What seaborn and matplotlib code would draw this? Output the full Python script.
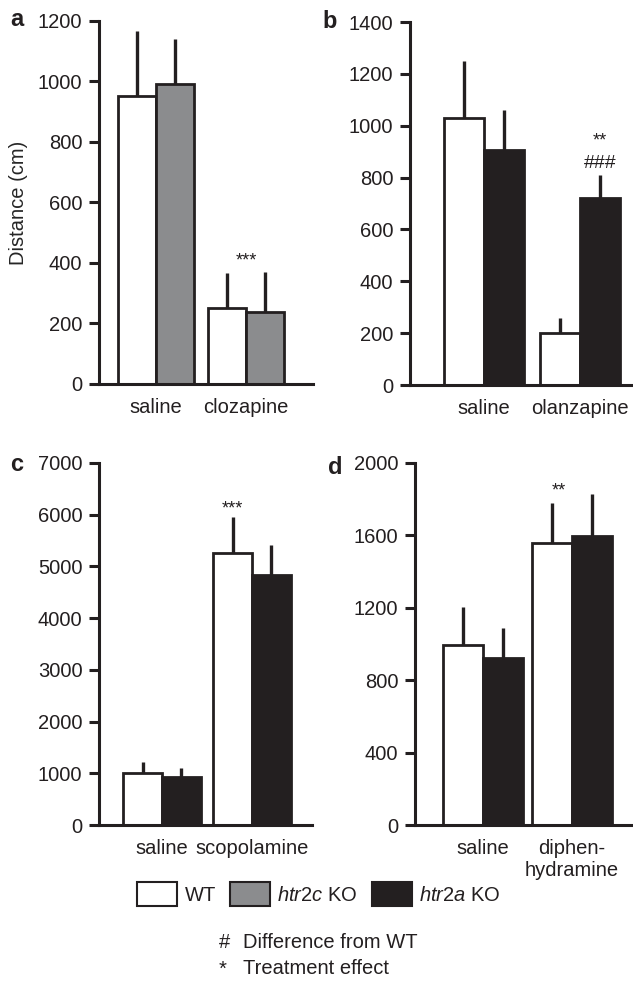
import matplotlib
matplotlib.use('Agg')
import matplotlib.pyplot as plt
from matplotlib.patches import Patch
import seaborn as sns
import pandas as pd

# ---- data (distance in cm, mean and SEM) ----
genotypes_a = ['WT', 'htr2c KO']
treatments_a = ['saline', 'clozapine']
mean_a = {'WT': [952, 251], 'htr2c KO': [992, 238]}
sem_a = {'WT': [215, 116], 'htr2c KO': [148, 132]}

genotypes_b = ['WT', 'htr2a KO']
treatments_b = ['saline', 'olanzapine']
mean_b = {'WT': [1028, 200], 'htr2a KO': [908, 722]}
sem_b = {'WT': [222, 58], 'htr2a KO': [152, 88]}

genotypes_c = ['WT', 'htr2a KO']
treatments_c = ['saline', 'scopolamine']
mean_c = {'WT': [1000, 5258], 'htr2a KO': [935, 4839]}
sem_c = {'WT': [226, 690], 'htr2a KO': [175, 567]}

genotypes_d = ['WT', 'htr2a KO']
treatments_d = ['saline', 'diphen-\nhydramine']
mean_d = {'WT': [994, 1558], 'htr2a KO': [925, 1595]}
sem_d = {'WT': [211, 223], 'htr2a KO': [164, 236]}

INK = '#231f20'
colors = {'WT': 'white', 'htr2c KO': '#8b8c8e', 'htr2a KO': INK}

sns.set_style('ticks')
plt.rcParams['font.family'] = ['Liberation Sans', 'DejaVu Sans']
plt.rcParams['mathtext.fontset'] = 'custom'
plt.rcParams['mathtext.it'] = 'Liberation Sans:italic'
plt.rcParams['mathtext.rm'] = 'Liberation Sans'
plt.rcParams['text.color'] = INK
plt.rcParams['axes.edgecolor'] = INK
plt.rcParams['xtick.color'] = INK
plt.rcParams['ytick.color'] = INK

FS = 14.5

fig = plt.figure(figsize=(6.33, 9.83), dpi=100)


def panel(rect, genotypes, treatments, means, sems, ymax, ystep, xlim, width):
    ax = fig.add_axes(rect)
    rows = []
    for g in genotypes:
        for t, m in zip(treatments, means[g]):
            rows.append({'treatment': t, 'genotype': g, 'distance': m})
    df = pd.DataFrame(rows)
    sns.barplot(data=df, x='treatment', y='distance', hue='genotype',
                order=treatments, hue_order=genotypes, palette=colors,
                width=width, saturation=1, edgecolor=INK, linewidth=2.0,
                errorbar=None, legend=False, ax=ax)
    # one-sided error bars (mean + SEM)
    for cont, g in zip(ax.containers, genotypes):
        for bar, s in zip(cont, sems[g]):
            x = bar.get_x() + bar.get_width() / 2
            top = bar.get_height()
            ax.vlines(x, top, top + s, color=INK, lw=2.4, zorder=0.5)
    ax.set_ylim(0, ymax)
    ax.set_yticks(range(0, ymax + 1, ystep))
    ax.set_xlim(*xlim)
    ax.set_xlabel('')
    ax.set_ylabel('')
    sns.despine(ax=ax)
    for sp in ['left', 'bottom']:
        ax.spines[sp].set_linewidth(2.2)
    ax.tick_params(axis='y', length=7, width=2.2, pad=5, labelsize=FS)
    ax.tick_params(axis='x', length=0, pad=10, labelsize=FS)
    return ax


def bar_x(ax, gi, ti):
    b = ax.containers[gi][ti]
    return b.get_x() + b.get_width() / 2


ax_a = panel([0.1564, 0.6094, 0.3381, 0.3693], genotypes_a, treatments_a,
             mean_a, sem_a, 1200, 200, (-0.633, 1.744), 0.84)
ax_a.set_ylabel('Distance (cm)', fontsize=FS, labelpad=7)
ax_a.text(1.0, 390, '***', ha='center', va='baseline', fontsize=13)

ax_b = panel([0.6477, 0.6083, 0.3507, 0.3693], genotypes_b, treatments_b,
             mean_b, sem_b, 1400, 200, (-0.77, 1.54), 0.83)
xb = bar_x(ax_b, 1, 1)
ax_b.text(xb, 837, '###', ha='center', va='baseline', fontsize=14)
ax_b.text(xb, 922, '**', ha='center', va='baseline', fontsize=13)

ax_c = panel([0.1564, 0.1607, 0.3365, 0.3683], genotypes_c, treatments_c,
             mean_c, sem_c, 7000, 1000, (-0.70, 1.667), 0.86)
ax_c.text(bar_x(ax_c, 0, 1), 6033, '***', ha='center', va='baseline', fontsize=13)

ax_d = panel([0.6556, 0.1607, 0.3444, 0.3683], genotypes_d, treatments_d,
             mean_d, sem_d, 2000, 400, (-0.764, 1.685), 0.90)
ax_d.text(bar_x(ax_d, 0, 1) + 0.08, 1823, '**', ha='center', va='baseline', fontsize=13)

# panel letters
for lbl, x, y in [('a', 10, 26), ('b', 322, 28), ('c', 10, 471), ('d', 328, 474)]:
    fig.text(x / 633, 1 - y / 983, lbl, fontsize=17, fontweight='bold',
             va='baseline', ha='left')

# legend
handles = [Patch(facecolor=colors[g], edgecolor=INK, linewidth=1.5)
           for g in ['WT', 'htr2c KO', 'htr2a KO']]
labels = ['WT', r'$\mathit{htr2c}$ KO', r'$\mathit{htr2a}$ KO']
fig.legend(handles, labels, ncol=3, frameon=False, loc='center',
           bbox_to_anchor=(0.504, 1 - 894 / 983), fontsize=FS,
           handlelength=2.0, handleheight=1.4, handletextpad=0.35,
           columnspacing=0.7, borderpad=0)

# footnotes
fig.text(219 / 633, 1 - 942 / 983, '#', fontsize=FS, va='center')
fig.text(243 / 633, 1 - 942 / 983, 'Difference from WT', fontsize=FS, va='center')
fig.text(219 / 633, 1 - 969 / 983, '*', fontsize=FS, va='center')
fig.text(243 / 633, 1 - 969 / 983, 'Treatment effect', fontsize=FS, va='center')

fig.savefig('out.png', dpi=100)
